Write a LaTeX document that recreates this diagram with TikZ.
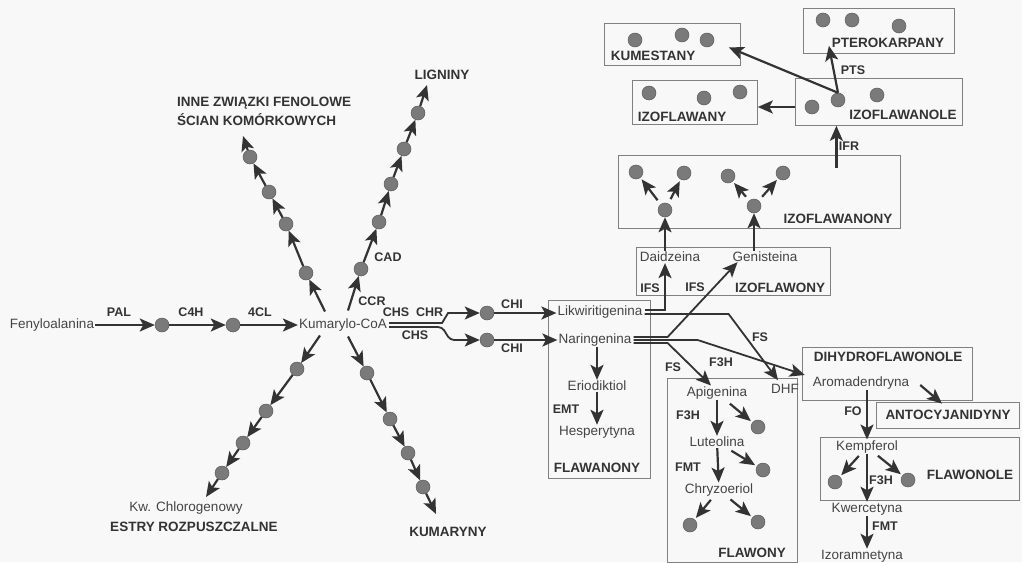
\documentclass[tikz,border=0pt]{standalone}
\usepackage{fontspec}
\setmainfont{Liberation Sans}
\usetikzlibrary{arrows.meta,calc}
\definecolor{ink}{HTML}{333333}
\definecolor{txt}{HTML}{444444}
\definecolor{boxc}{HTML}{808080}
\definecolor{dotc}{HTML}{7A7A7A}
\definecolor{bg}{HTML}{F8F8F8}
\begin{document}
\begin{tikzpicture}[x=1pt,y=-1pt,
  cmp/.style={font=\fontsize{13.5}{15}\selectfont, text=txt, inner sep=1pt},
  enz/.style={font=\fontsize{12.5}{14}\selectfont\bfseries, text=ink, inner sep=1pt},
  cls/.style={font=\fontsize{13.5}{15}\selectfont\bfseries, text=ink, inner sep=1pt},
  dot/.style={circle, fill=dotc, draw=dotc!75!black, line width=0.5pt, minimum size=14pt, inner sep=0pt},
  arr/.style={draw=ink, line width=2.2pt, -{Stealth[length=15pt,width=13pt,inset=3.5pt]}, shorten >=0pt},
  sarr/.style={arr, shorten <=5pt, shorten >=2pt},
  grp/.style={draw=boxc, line width=0.8pt},
  bx/.style n args={2}{minimum width=#1pt, minimum height=#2pt, anchor=north west, inner sep=0pt}]
\fill[bg] (0,0) rectangle (1022,562);
\useasboundingbox (0,0) rectangle (1022,562);

% ---------- boxes ----------
\node[grp,bx={102}{178}] (bflw) at (548,300) {};
\node[grp,bx={130}{184}] (bfly) at (667,378) {};
\node[grp,bx={194}{48}]  (bizy) at (636,247) {};
\node[grp,bx={282}{73}]  (izfn) at (618,155) {};
\node[grp,bx={167}{47}]  (izol) at (795,78) {};
\node[grp,bx={125}{44}]  (izy)  at (632,80) {};
\node[grp,bx={136}{42}]  (kbox) at (604,23) {};
\node[grp,bx={151}{45}]  (pbox) at (803,8) {};
\node[grp,bx={170}{53}]  (bdhf) at (802,347) {};
\node[grp,bx={199}{63}]  (bflo) at (820,437) {};
\node[grp,cls,minimum width=143pt,minimum height=26pt] (anto) at (948,415) {ANTOCYJANIDYNY};

% ---------- class labels ----------
\node[cls] (tflw) at (597,468) {FLAWANONY};
\node[cls] (tfly) at (752,553) {FLAWONY};
\node[cls] (tizy) at (780,288) {IZOFLAWONY};
\node[cls] (tizfn) at (838,219) {IZOFLAWANONY};
\node[cls] (tizol) at (903,115) {IZOFLAWANOLE};
\node[cls] (tizy2) at (682,117) {IZOFLAWANY};
\node[cls] (tkum) at (653,56) {KUMESTANY};
\node[cls] (tpte) at (888,43) {PTEROKARPANY};
\node[cls] (tdhf) at (888,357) {DIHYDROFLAWONOLE};
\node[cls] (tflo) at (970,475) {FLAWONOLE};
\node[cls] (tlig) at (442,75) {LIGNINY};
\node[cls, anchor=west] (tinne1) at (176,103) {INNE ZWIĄZKI FENOLOWE};
\node[cls, anchor=west] (tinne2) at (176,120) {ŚCIAN KOMÓRKOWYCH};
\node[cls] (testr) at (194,527) {ESTRY ROZPUSZCZALNE};
\node[cls] (tkmr) at (448,532) {KUMARYNY};

% ---------- compounds ----------
\node[cmp] (fen) at (52,325) {Fenyloalanina};
\node[cmp] (kum) at (343,325) {Kumarylo-CoA};
\node[cmp] (lik) at (600,312) {Likwiritigenina};
\node[cmp] (nar) at (595,340) {Naringenina};
\node[cmp] (eri) at (597,386) {Eriodiktiol};
\node[cmp] (hes) at (597,432) {Hesperytyna};
\node[cmp] (dai) at (670,257) {Daidzeina};
\node[cmp] (gen) at (765,257) {Genisteina};
\node[cmp] (api) at (717,393) {Apigenina};
\node[cmp] (lut) at (717,442) {Luteolina};
\node[cmp] (chr) at (719,490) {Chryzoeriol};
\node[cmp] (dhf) at (785,389) {DHF};
\node[cmp] (aro) at (861,383) {Aromadendryna};
\node[cmp] (kem) at (867,447) {Kempferol};
\node[cmp] (kwe) at (867,509) {Kwercetyna};
\node[cmp] (izo) at (862,556) {Izoramnetyna};
\node[cmp] (chl) at (186,508) {Kw. Chlorogenowy};

% ---------- dots ----------
\node[dot] (d1) at (162,325) {};
\node[dot] (d2) at (233,325) {};
\node[dot] (dL1) at (306,273) {};
\node[dot] (dL2) at (286,224) {};
\node[dot] (dL3) at (269,192) {};
\node[dot] (dL4) at (250,157) {};
\coordinate (eL) at (243,136);
\node[dot] (dR1) at (361,269) {};
\node[dot] (dR2) at (379,222) {};
\node[dot] (dR3) at (391,184) {};
\node[dot] (dR4) at (404,149) {};
\node[dot] (dR5) at (418,113) {};
\coordinate (eR) at (427,85);
\node[dot] (dD1) at (297,369) {};
\node[dot] (dD2) at (266,411) {};
\node[dot] (dD3) at (243,443) {};
\node[dot] (dD4) at (222,473) {};
\coordinate (eD) at (206,497);
\node[dot] (dK1) at (367,373) {};
\node[dot] (dK2) at (390,419) {};
\node[dot] (dK3) at (408,453) {};
\node[dot] (dK4) at (423,487) {};
\coordinate (eK) at (436,514);
\node[dot] (cA) at (487,313) {};
\node[dot] (cB) at (487,340) {};
\node[dot] (dz0) at (665,210) {};
\node[dot] (dz1) at (636,172) {};
\node[dot] (dz2) at (684,173) {};
\node[dot] (dz5) at (754,206) {};
\node[dot] (dz3) at (728,176) {};
\node[dot] (dz4) at (783,173) {};
\node[dot] (io1) at (812,107) {};
\node[dot] (io2) at (838,100) {};
\node[dot] (io3) at (877,95) {};
\node[dot] (iy1) at (649,93) {};
\node[dot] (iy2) at (704,98) {};
\node[dot] (iy3) at (740,92) {};
\node[dot] (ku1) at (635,40) {};
\node[dot] (ku2) at (682,35) {};
\node[dot] (ku3) at (707,40) {};
\node[dot] (pt1) at (823,20) {};
\node[dot] (pt2) at (852,20) {};
\node[dot] (pt3) at (899,26) {};
\node[dot] (fl1) at (758,427) {};
\node[dot] (fl2) at (763,470) {};
\node[dot] (fl3) at (690,525) {};
\node[dot] (fl4) at (758,522) {};
\node[dot] (kd1) at (835,482) {};
\node[dot] (kd2) at (908,480) {};

% ---------- enzyme labels ----------
\node[enz] (ePAL) at (119,312) {PAL};
\node[enz] (eC4H) at (191,312) {C4H};
\node[enz] (e4CL) at (260,312) {4CL};
\node[enz] (eCCR) at (372,301) {CCR};
\node[enz] (eCAD) at (388,257) {CAD};
\node[enz] (eCHR) at (413,312) {CHS~~CHR};
\node[enz] (eCHS) at (415,335) {CHS};
\node[enz] (eCHI1) at (512,304) {CHI};
\node[enz] (eCHI2) at (512,348) {CHI};
\node[enz] (eEMT) at (566,409) {EMT};
\node[enz] (eIFS1) at (650,288) {IFS};
\node[enz] (eIFS2) at (695,287) {IFS};
\node[enz] (eFS1) at (760,337) {FS};
\node[enz] (eFS2) at (673,367) {FS};
\node[enz] (eF3H1) at (721,362) {F3H};
\node[enz] (eF3H2) at (688,415) {F3H};
\node[enz] (eFMT1) at (688,467) {FMT};
\node[enz] (eFO) at (853,411) {FO};
\node[enz] (eF3H3) at (881,480) {F3H};
\node[enz] (eFMT2) at (885,526) {FMT};
\node[enz] (eIFR) at (849,146) {IFR};
\node[enz] (ePTS) at (853,70) {PTS};

% ---------- main chain ----------
\draw[arr] (fen) -- (d1);
\draw[arr] (d1) -- (d2);
\draw[arr] (d2) -- (kum);

% upper-left branch
\draw[arr] ($(kum.north)+(-18,-6)$) -- (dL1);
\draw[arr] (dL1) -- (dL2);
\draw[arr] (dL2) -- (dL3);
\draw[arr] (dL3) -- (dL4);
\draw[arr] (dL4) -- (eL);
% upper-right branch
\draw[arr] ($(kum.north)+(5,-7)$) -- (dR1);
\draw[arr] (dR1) -- (dR2);
\draw[arr] (dR2) -- (dR3);
\draw[arr] (dR3) -- (dR4);
\draw[arr] (dR4) -- (dR5);
\draw[arr] (dR5) -- (eR);
% lower-left branch
\draw[arr] ($(kum.south)+(-23,3)$) -- (dD1);
\draw[arr] (dD1) -- (dD2);
\draw[arr] (dD2) -- (dD3);
\draw[arr] (dD3) -- (dD4);
\draw[arr] (dD4) -- (eD);
% lower-right branch
\draw[arr] ($(kum.south)+(5,4)$) -- (dK1);
\draw[arr] (dK1) -- (dK2);
\draw[arr] (dK2) -- (dK3);
\draw[arr] (dK3) -- (dK4);
\draw[arr] (dK4) -- (eK);

% CHS / CHR fork
\draw[arr, line width=1.8pt] ($(kum.east)+(1,-2)$) -- ++(53,0) -- ++(6,-10) -- (cA);
\draw[arr, line width=1.8pt, rounded corners=4pt] ($(kum.east)+(1,2)$) -- ++(53,0) -- ++(8,13) -- (cB);
\draw[arr] (cA) -- (cA -| lik.west);
\draw[arr] (cB) -- (cB -| nar.west);

% flavanones
\draw[arr] (nar.south -| eri) -- (eri);
\draw[arr] (eri) -- (hes);

% Likwiritigenina
\draw[arr, line width=1.8pt] ($(lik.east)+(1,-2)$) -| (dz0 |- dai.south);
\draw[arr, line width=1.8pt] ($(lik.east)+(1,2)$) -- ++(84,0) -- ($(dhf.north)+(-7,-3)$);
% Naringenina
\draw[arr, line width=1.8pt] ($(nar.east)+(1,-3)$) -- ++(34,0) -- ($(gen.south west)+(6,-1)$);
\draw[arr, line width=1.8pt] ($(nar.east)+(1,0)$) -- ++(64,0) -- ($(aro.west)+(-7,-8)$);
\draw[arr, line width=1.8pt] ($(nar.east)+(1,3)$) -- ++(34,0) -- ($(api.north)+(-6,0)$);

% isoflavones -> isoflavanones
\draw[arr] (dai.north -| dz0) -- (dz0);
\draw[arr] (gen.north -| dz5) -- (dz5);
\draw[sarr] (dz0) -- (dz1);
\draw[sarr] (dz0) -- (dz2);
\draw[sarr] (dz5) -- (dz3);
\draw[sarr] (dz5) -- (dz4);

% IFR, PTS, etc.
\coordinate (ifr0) at ($(izfn.north)+(77,13)$);
\draw[arr] (ifr0) -- (ifr0 |- izol.south);
\draw[arr] (izol.west |- io1) -- (izy.east |- io1);
\draw[arr] (io2.north) -- ($(kbox.east)+(-12,3)$);
\draw[arr] (io2.north) -- ($(pbox.south)+(-50,-8)$);

% flavones
\draw[arr] (api) -- (lut);
\draw[arr] (lut) -- (chr);
\draw[sarr] (api) -- (fl1);
\draw[sarr] (lut) -- (fl2);
\draw[sarr, shorten <=3pt] (chr) -- (fl3);
\draw[sarr, shorten <=3pt] (chr) -- (fl4);

% dihydroflavonols / flavonols
\draw[arr] ($(aro.east)+(10,2)$) -- ($(anto.north)+(-6,2)$);
\draw[arr] (aro.south -| kem) -- (kem);
\draw[arr] (kem) -- (kwe);
\draw[sarr, shorten <=2pt] (kem) -- (kd1);
\draw[sarr, shorten <=2pt] (kem) -- (kd2);
\draw[arr] (kwe) -- (kwe |- izo.north);
\end{tikzpicture}
\end{document}
